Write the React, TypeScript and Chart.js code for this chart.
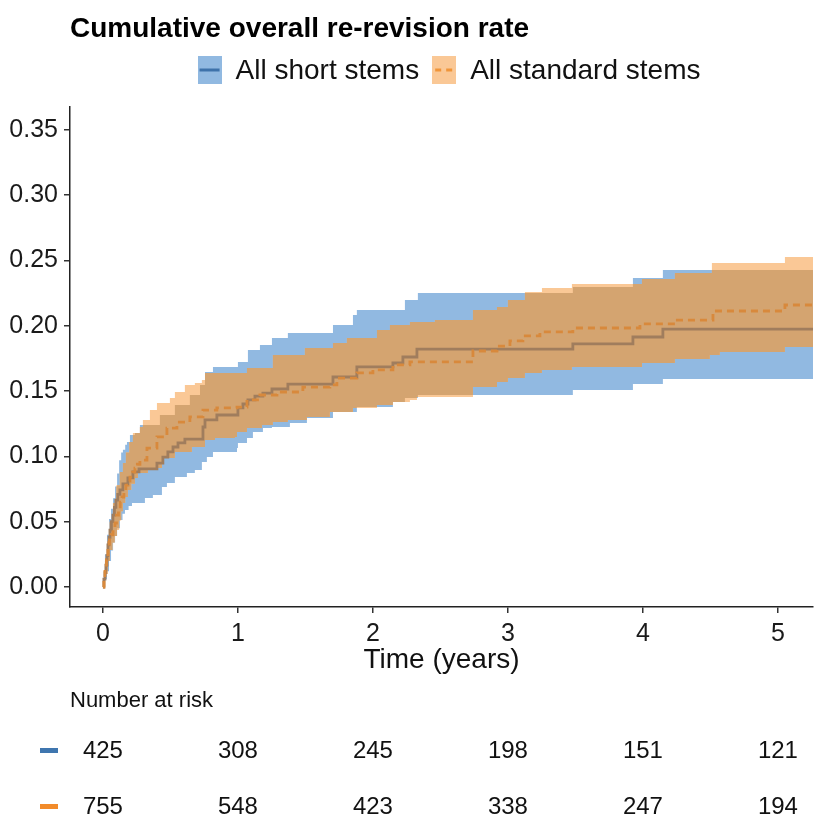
import React, { useEffect, useRef } from "react";
import { Chart, registerables } from "chart.js";

Chart.register(...registerables);

type Pt = [number, number];

const TITLE = "Cumulative overall re-revision rate";
const SERIES_NAMES = ["All short stems", "All standard stems"];
const X_TITLE = "Time (years)";
const X_TICKS = [0, 1, 2, 3, 4, 5];
const Y_TICKS = [0, 0.05, 0.1, 0.15, 0.2, 0.25, 0.3, 0.35];
const RISK_TITLE = "Number at risk";
const RISK_TIMES = [0, 1, 2, 3, 4, 5];
const RISK_SHORT = [425, 308, 245, 198, 151, 121];
const RISK_STANDARD = [755, 548, 423, 338, 247, 194];
const END_TIME = 5.26;

// Cumulative re-revision, short stems: [time, value]
const shortEstimate: Pt[] = [
  [0, 0], [0.007, 0.006], [0.015, 0.011], [0.022, 0.0168], [0.03, 0.024], [0.037, 0.0322],
  [0.045, 0.038], [0.052, 0.0436], [0.063, 0.05], [0.074, 0.0551], [0.085, 0.061], [0.096, 0.0666],
  [0.11, 0.071], [0.126, 0.0743], [0.148, 0.0789], [0.185, 0.0835], [0.222, 0.0881], [0.267, 0.0904],
  [0.4, 0.0949], [0.444, 0.0995], [0.481, 0.1034], [0.519, 0.1072], [0.556, 0.1103], [0.607, 0.1133],
  [0.741, 0.1225], [0.756, 0.1279], [0.844, 0.1317], [1.0, 0.1371], [1.037, 0.1401], [1.074, 0.1432],
  [1.126, 0.1462], [1.185, 0.1485], [1.252, 0.1516], [1.37, 0.1554], [1.704, 0.1608], [1.881, 0.1685],
  [2.148, 0.1715], [2.222, 0.1761], [2.326, 0.1822], [3.481, 0.1861], [3.926, 0.1914], [4.148, 0.1975],
];
const shortUpper: Pt[] = [
  [0, 0], [0.007, 0.01], [0.015, 0.025], [0.03, 0.04], [0.045, 0.052], [0.06, 0.06], [0.075, 0.068],
  [0.09, 0.077], [0.105, 0.087], [0.12, 0.097], [0.135, 0.103], [0.148, 0.105], [0.165, 0.109],
  [0.178, 0.111], [0.2, 0.1164], [0.237, 0.1179], [0.274, 0.124], [0.422, 0.1317], [0.533, 0.1394],
  [0.644, 0.147], [0.719, 0.1547], [0.756, 0.1646], [0.815, 0.1685], [1.0, 0.1723], [1.074, 0.1815],
  [1.163, 0.1853], [1.252, 0.1907], [1.37, 0.1945], [1.704, 0.2006], [1.852, 0.2083], [1.881, 0.2121],
  [2.237, 0.2198], [2.333, 0.2251], [3.481, 0.2297], [3.926, 0.2366], [4.148, 0.2427],
];
const shortLower: Pt[] = [
  [0, 0], [0.015, 0.006], [0.03, 0.012], [0.045, 0.02], [0.06, 0.028], [0.075, 0.034], [0.09, 0.039],
  [0.105, 0.045], [0.126, 0.0513], [0.145, 0.056], [0.163, 0.059], [0.19, 0.062], [0.215, 0.0643],
  [0.311, 0.0681], [0.37, 0.0704], [0.437, 0.0766], [0.474, 0.0796], [0.533, 0.0842], [0.622, 0.0873],
  [0.681, 0.0896], [0.733, 0.0957], [0.77, 0.0995], [0.815, 0.1034], [0.993, 0.1064], [1.0, 0.1103],
  [1.067, 0.1141], [1.111, 0.1187], [1.185, 0.1217], [1.252, 0.1225], [1.385, 0.1256], [1.511, 0.1294],
  [1.704, 0.134], [1.881, 0.1378], [2.148, 0.1417], [2.237, 0.1447], [2.333, 0.147], [3.481, 0.1508],
  [3.926, 0.1554], [4.148, 0.1593],
];

// Cumulative re-revision, standard stems: [time, value]
const standardEstimate: Pt[] = [
  [0, 0], [0.007, 0.005], [0.015, 0.012], [0.026, 0.021], [0.037, 0.0306], [0.048, 0.036],
  [0.06, 0.04], [0.075, 0.045], [0.089, 0.049], [0.1, 0.055], [0.115, 0.06], [0.128, 0.065],
  [0.141, 0.0689], [0.155, 0.074], [0.17, 0.078], [0.185, 0.081], [0.2, 0.0842], [0.22, 0.088],
  [0.237, 0.091], [0.255, 0.094], [0.274, 0.0972], [0.326, 0.1064], [0.4, 0.1149], [0.474, 0.1217],
  [0.548, 0.1263], [0.644, 0.1302], [0.741, 0.1355], [0.844, 0.1371], [0.993, 0.1378], [1.067, 0.1432],
  [1.163, 0.147], [1.289, 0.1493], [1.481, 0.1531], [1.681, 0.1547], [1.733, 0.16], [1.881, 0.1639],
  [2.0, 0.1662], [2.148, 0.17], [2.274, 0.1723], [2.741, 0.1807], [2.919, 0.1845], [3.015, 0.1884],
  [3.111, 0.1922], [3.237, 0.1953], [3.481, 0.1983], [3.978, 0.2014], [4.237, 0.2044], [4.519, 0.2113],
  [5.052, 0.2159],
];
const standardUpper: Pt[] = [
  [0, 0], [0.015, 0.02], [0.03, 0.035], [0.05, 0.05], [0.074, 0.0643], [0.1, 0.078], [0.125, 0.088],
  [0.148, 0.0949], [0.17, 0.103], [0.195, 0.111], [0.222, 0.1179], [0.274, 0.1225], [0.296, 0.1279],
  [0.348, 0.1355], [0.4, 0.1409], [0.496, 0.1447], [0.533, 0.1493], [0.607, 0.1547], [0.681, 0.1562],
  [0.733, 0.1585], [0.756, 0.1639], [1.067, 0.1677], [1.259, 0.1776], [1.496, 0.183], [1.704, 0.1868],
  [1.807, 0.1907], [2.03, 0.1968], [2.126, 0.2006], [2.274, 0.2029], [2.459, 0.2044], [2.741, 0.2121],
  [2.919, 0.2144], [3.0, 0.2198], [3.126, 0.2259], [3.252, 0.2289], [3.474, 0.232], [3.993, 0.2358],
  [4.237, 0.2404], [4.511, 0.2481], [5.052, 0.2527],
];
const standardLower: Pt[] = [
  [0, 0], [0.02, 0.01], [0.036, 0.02], [0.052, 0.0283], [0.07, 0.034], [0.087, 0.039], [0.104, 0.0436],
  [0.12, 0.051], [0.135, 0.058], [0.148, 0.0643], [0.165, 0.069], [0.185, 0.0743], [0.21, 0.079],
  [0.237, 0.0835], [0.259, 0.0873], [0.333, 0.0911], [0.437, 0.0988], [0.533, 0.1034], [0.659, 0.1072],
  [0.756, 0.1126], [0.83, 0.1141], [0.978, 0.1149], [0.993, 0.1187], [1.067, 0.1217], [1.178, 0.124],
  [1.259, 0.1263], [1.37, 0.1279], [1.511, 0.1302], [1.681, 0.134], [1.852, 0.1371], [2.03, 0.1394],
  [2.148, 0.1417], [2.274, 0.1432], [2.326, 0.1455], [2.741, 0.1531], [2.919, 0.157], [3.0, 0.16],
  [3.126, 0.1639], [3.252, 0.1662], [3.474, 0.1685], [3.993, 0.1715], [4.237, 0.1746], [4.496, 0.1776],
  [4.57, 0.1799], [5.052, 0.1838],
];

const COLORS = {
  blueBand: "#91B9E1",
  orangeBand: "#FAC896",
  overlapBand: "#D4A470",
  shortLine: "#A07D5D",
  standardLine: "#D8893C",
  shortKeyLine: "#3E72AA",
  standardKeyLine: "#F0953A",
  shortRisk: "#3F76AF",
  standardRisk: "#F28B2A",
};

const FONT = '"Liberation Sans", Arial, Helvetica, sans-serif';

function stepAt(s: Pt[], t: number): number {
  let v = s[0][1];
  for (const [x, y] of s) {
    if (x <= t) v = y;
    else break;
  }
  return v;
}

function toXY(s: Pt[]) {
  const out = s.map(([x, y]) => ({ x, y }));
  out.push({ x: END_TIME, y: s[s.length - 1][1] });
  return out;
}

function overlapBands() {
  const times = Array.from(
    new Set([...shortUpper, ...shortLower, ...standardUpper, ...standardLower].map((p) => p[0]))
  ).sort((a, b) => a - b);
  const up: Pt[] = [];
  const lo: Pt[] = [];
  for (const t of times) {
    const u = Math.min(stepAt(shortUpper, t), stepAt(standardUpper, t));
    const l = Math.max(stepAt(shortLower, t), stepAt(standardLower, t));
    up.push([t, Math.max(u, l)]);
    lo.push([t, l]);
  }
  return { up, lo };
}

function makeKey(fill: string, line: string, dashed: boolean) {
  const c = document.createElement("canvas");
  c.width = 24;
  c.height = 28;
  const g = c.getContext("2d")!;
  g.fillStyle = fill;
  g.fillRect(0, 0, 24, 28);
  g.strokeStyle = line;
  g.lineWidth = 3;
  if (dashed) g.setLineDash([6, 5]);
  g.beginPath();
  g.moveTo(dashed ? 3 : 2, 14);
  g.lineTo(22, 14);
  g.stroke();
  return c;
}

const decorPlugin = {
  id: "decor",
  afterDraw(chart: any) {
    const { ctx, chartArea } = chart;
    const xs = chart.scales.x;
    ctx.save();
    // Title
    ctx.fillStyle = "#000";
    ctx.textBaseline = "alphabetic";
    ctx.textAlign = "left";
    ctx.font = `bold 28px ${FONT}`;
    ctx.fillText(TITLE, chartArea.left, 37);

    // Legend
    ctx.font = `28px ${FONT}`;
    const keys = [
      makeKey(COLORS.blueBand, COLORS.shortKeyLine, false),
      makeKey(COLORS.orangeBand, COLORS.standardKeyLine, true),
    ];
    const keyW = 24;
    const gapKT = 14;
    const gapItems = 13;
    const widths = SERIES_NAMES.map((n) => ctx.measureText(n).width);
    const total = widths.reduce((a, w) => a + keyW + gapKT + w, 0) + gapItems;
    let lx = 449 - total / 2;
    SERIES_NAMES.forEach((name, i) => {
      ctx.drawImage(keys[i], lx, 56);
      ctx.fillStyle = "#111";
      ctx.textBaseline = "middle";
      ctx.fillText(name, lx + keyW + gapKT, 71);
      lx += keyW + gapKT + widths[i] + gapItems;
    });

    // Risk table
    ctx.textBaseline = "alphabetic";
    ctx.fillStyle = "#111";
    ctx.font = `22px ${FONT}`;
    ctx.fillText(RISK_TITLE, chartArea.left, 707);
    ctx.font = `24px ${FONT}`;
    ctx.textAlign = "center";
    ctx.textBaseline = "middle";
    RISK_TIMES.forEach((t, i) => {
      const px = xs.getPixelForValue(t);
      ctx.fillText(String(RISK_SHORT[i]), px, 751);
      ctx.fillText(String(RISK_STANDARD[i]), px, 807);
    });
    ctx.fillStyle = COLORS.shortRisk;
    ctx.fillRect(40, 748, 18, 5);
    ctx.fillStyle = COLORS.standardRisk;
    ctx.fillRect(40, 804, 18, 5);
    ctx.restore();
  },
};

export default function App() {
  const ref = useRef<HTMLCanvasElement | null>(null);

  useEffect(() => {
    if (!ref.current) return;
    const ov = overlapBands();
    const band = (data: Pt[], fill: any, color: string, order: number) => ({
      data: toXY(data),
      stepped: true as const,
      borderWidth: 0,
      borderColor: "rgba(0,0,0,0)",
      backgroundColor: color,
      fill,
      pointRadius: 0,
      order,
    });
    const chart = new Chart(ref.current, {
      type: "line",
      data: {
        datasets: [
          band(shortUpper, "+1", COLORS.blueBand, 30),
          band(shortLower, false, COLORS.blueBand, 30),
          band(standardUpper, "+1", COLORS.orangeBand, 20),
          band(standardLower, false, COLORS.orangeBand, 20),
          band(ov.up, "+1", COLORS.overlapBand, 10),
          band(ov.lo, false, COLORS.overlapBand, 10),
          {
            label: SERIES_NAMES[0],
            data: toXY(shortEstimate),
            stepped: true,
            borderColor: COLORS.shortLine,
            borderWidth: 2.8,
            pointRadius: 0,
            fill: false,
            order: 1,
          },
          {
            label: SERIES_NAMES[1],
            data: toXY(standardEstimate),
            stepped: true,
            borderColor: COLORS.standardLine,
            borderWidth: 2.8,
            borderDash: [7, 5],
            pointRadius: 0,
            fill: false,
            order: 0,
          },
        ] as any,
      },
      options: {
        animation: false,
        responsive: false,
        devicePixelRatio: 1,
        layout: { padding: { top: 107, bottom: 141, left: 0, right: 2 } },
        plugins: {
          legend: { display: false },
          tooltip: { enabled: false },
          title: { display: false },
        },
        scales: {
          x: {
            type: "linear",
            min: -0.244,
            max: END_TIME,
            afterBuildTicks: (s: any) => {
              s.ticks = X_TICKS.map((v) => ({ value: v }));
            },
            afterFit: (s: any) => {
              s.height = 70;
            },
            ticks: {
              color: "#1a1a1a",
              font: { family: FONT, size: 25 },
              padding: 6,
              maxRotation: 0,
              callback: (v: any) => String(v),
            },
            grid: {
              display: true,
              drawOnChartArea: false,
              drawTicks: true,
              tickLength: 6,
              color: "#333",
              lineWidth: 1.5,
            },
            border: { display: true, color: "#222", width: 1.5 },
            title: {
              display: true,
              text: X_TITLE,
              color: "#111",
              font: { family: FONT, size: 28 },
              padding: { top: 0, bottom: 0 },
            },
          },
          y: {
            type: "linear",
            min: -0.0153,
            max: 0.3675,
            afterBuildTicks: (s: any) => {
              s.ticks = Y_TICKS.map((v) => ({ value: v }));
            },
            afterFit: (s: any) => {
              s.width = 70;
            },
            ticks: {
              color: "#1a1a1a",
              font: { family: FONT, size: 25 },
              padding: 6,
              callback: (v: any) => Number(v).toFixed(2),
            },
            grid: {
              display: true,
              drawOnChartArea: false,
              drawTicks: true,
              tickLength: 6,
              color: "#333",
              lineWidth: 1.5,
            },
            border: { display: true, color: "#222", width: 1.5 },
          },
        },
      },
      plugins: [decorPlugin],
    } as any);
    return () => chart.destroy();
  }, []);

  return (
    <div
      style={{
        position: "fixed",
        left: 0,
        top: 0,
        width: 815,
        height: 818,
        background: "#fff",
      }}
    >
      <canvas ref={ref} width={815} height={818} style={{ width: 815, height: 818, display: "block" }} />
    </div>
  );
}
